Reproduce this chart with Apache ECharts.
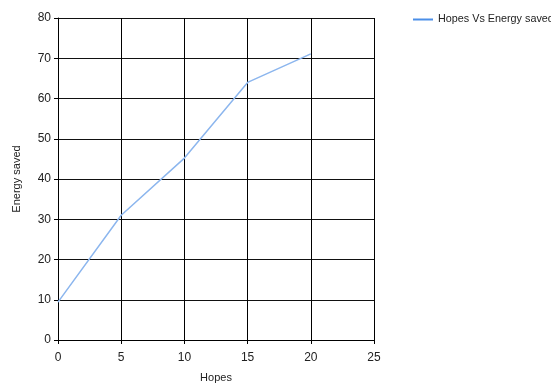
<!DOCTYPE html>
<html>
<head>
<meta charset="utf-8">
<script src="https://cdn.jsdelivr.net/npm/echarts@6/dist/echarts.min.js"></script>
<style>
  html, body { margin: 0; padding: 0; background: #fff; }
  #main { width: 551px; height: 385px; }
</style>
</head>
<body>
<div id="main"></div>
<script>
// values
const hopes = [0, 5, 10, 15, 20];
const energySaved = [9.4, 31, 45.2, 64, 71.1];
const seriesName = 'Hopes Vs Energy saved';

const chart = echarts.init(document.getElementById('main'));

const font = 'Liberation Sans';
const axisText = { color: '#222', fontSize: 12, fontFamily: font };

const option = {
  animation: false,
  legend: {
    top: 14,
    left: 413,
    padding: 0,
    itemWidth: 20,
    itemHeight: 2,
    icon: 'rect',
    textStyle: { color: '#222', fontSize: 10.8, fontFamily: font },
    data: [{ name: seriesName, itemStyle: { color: '#4b8fe8' } }]
  },
  grid: { left: 58, right: 177, top: 18, bottom: 45, outerBoundsMode: 'none', containLabel: false },
  xAxis: {
    type: 'value',
    min: 0,
    max: 25,
    interval: 5,
    name: 'Hopes',
    nameLocation: 'middle',
    nameGap: 32,
    nameTextStyle: { color: '#222', fontSize: 11, fontFamily: font },
    axisLine: { lineStyle: { color: '#000', width: 1 } },
    axisTick: { length: 4, lineStyle: { color: '#000' } },
    axisLabel: Object.assign({ margin: 12 }, axisText),
    splitLine: { show: true, lineStyle: { color: '#000', width: 1 } }
  },
  yAxis: {
    type: 'value',
    min: 0,
    max: 80,
    interval: 10,
    name: 'Energy saved',
    nameLocation: 'middle',
    nameGap: 36,
    nameTextStyle: { color: '#222', fontSize: 11, fontFamily: font },
    axisLine: { show: true, lineStyle: { color: '#000', width: 1 } },
    axisTick: { show: true, length: 4, lineStyle: { color: '#000' } },
    axisLabel: Object.assign({ margin: 7 }, axisText),
    splitLine: { show: true, lineStyle: { color: '#111', width: 1 } }
  },
  series: [{
    name: seriesName,
    type: 'line',
    data: hopes.map((h, i) => [h, energySaved[i]]),
    showSymbol: false,
    symbol: 'none',
    lineStyle: { color: '#8cb6ee', width: 1.5 },
    itemStyle: { color: '#4b8fe8' }
  }]
};

chart.setOption(option);
</script>
</body>
</html>
